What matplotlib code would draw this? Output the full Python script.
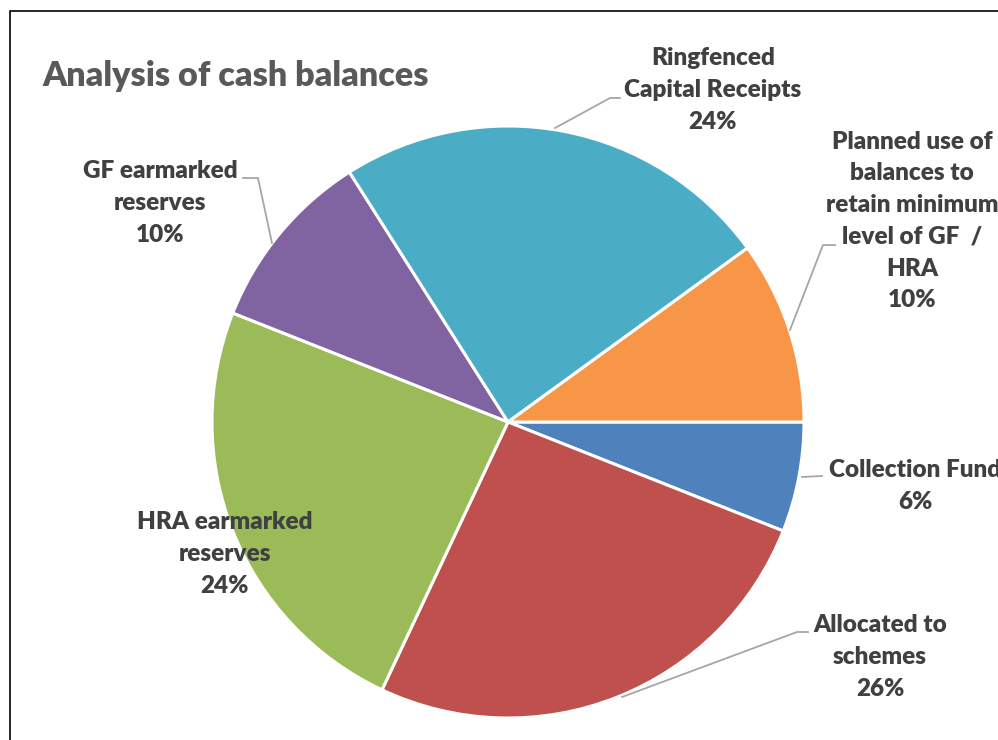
import matplotlib
matplotlib.use('Agg')
import matplotlib.pyplot as plt
from matplotlib.patches import Rectangle

# slice data, clockwise from 3 o'clock
labels = ['Collection Fund', 'Allocated to\nschemes', 'HRA earmarked\nreserves',
          'GF earmarked\nreserves', 'Ringfenced\nCapital Receipts',
          'Planned use of\nbalances to\nretain minimum\nlevel of GF  /\nHRA']
shares = [6, 26, 24, 10, 24, 10]
colors = ['#4F81BD', '#C0504D', '#9BBB59', '#8064A2', '#4BACC6', '#F79646']

W, H = 998, 740
def px(x, y):
    # image pixel -> data coords (y up)
    return x, H - y

fig = plt.figure(figsize=(W / 100, H / 100), dpi=100)
ax = fig.add_axes([0, 0, 1, 1])

# chart frame (right and bottom edges fall outside the crop)
ax.add_patch(Rectangle(px(10, 1000), 1200, 989, fill=False, edgecolor='black', lw=1.2))

ax.pie(shares, colors=colors, startangle=0, counterclock=False,
       center=px(508, 422), radius=296,
       wedgeprops=dict(edgecolor='white', linewidth=2.2), frame=True)
ax.set_xlim(0, W)
ax.set_ylim(0, H)
ax.set_aspect('equal')
ax.axis('off')

font = 'Lato'
txt_color = '#404040'
ax.text(*px(42, 76), 'Analysis of cash balances', fontsize=24.6, fontweight='heavy',
        color='#595959', family=font, ha='left', va='center')

# label text centres and leader lines (image pixel coords)
label_pos = [(915, 486), (880, 657), (225, 554), (160, 203), (713, 90), (912, 221)]
leaders = [
    [(802, 477), (822, 476)],
    [(622, 697), (797, 632), (808, 632)],
    None,
    [(272, 243), (258, 178), (243, 178)],
    [(555, 128), (610, 98), (620, 98)],
    [(790, 330), (823, 245), (835, 245)],
]

for lab, s, pos, ld in zip(labels, shares, label_pos, leaders):
    ax.text(*px(*pos), f'{lab}\n{s}%', fontsize=17.5, fontweight='heavy', color=txt_color,
            family=font, ha='center', va='center', linespacing=1.54, zorder=5)
    if ld:
        xs = [p[0] for p in ld]
        ys = [H - p[1] for p in ld]
        ax.plot(xs, ys, color='#A6A6A6', lw=1.3, zorder=4)

fig.savefig('out.png', dpi=100)
